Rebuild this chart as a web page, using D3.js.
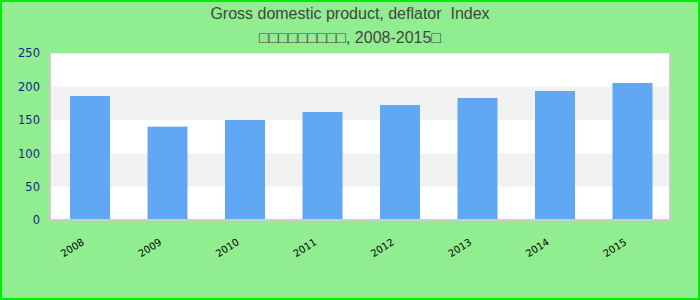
<!DOCTYPE html>
<html>
<head>
<meta charset="utf-8">
<script src="https://cdn.jsdelivr.net/npm/d3@7"></script>
<style>
  body { margin: 0; }
  svg { display: block; }
</style>
</head>
<body>
<div id="chart"></div>
<script>
// data
var years = ["2008", "2009", "2010", "2011", "2012", "2013", "2014", "2015"];
var deflator = [186, 140, 150, 162, 172.5, 183, 193.5, 205.5];
var yTicks = [0, 50, 100, 150, 200, 250];
var titleLines = ["Gross domestic product, deflator  Index", "\u25A1\u25A1\u25A1\u25A1\u25A1\u25A1\u25A1\u25A1\u25A1, 2008-2015\u25A1"];

var width = 700, height = 300;
var plot = { left: 50, right: 670, top: 53.3, bottom: 220 };

var svg = d3.select("#chart")
    .append("svg")
    .attr("width", width)
    .attr("height", height);

// background + outer border
svg.append("rect")
    .attr("x", 1).attr("y", 1)
    .attr("width", width - 2).attr("height", height - 2)
    .style("fill", "#90ee90")
    .style("stroke", "#00ee00")
    .style("stroke-width", 2);

// title
svg.selectAll(".title")
    .data(titleLines)
    .enter()
    .append("text")
    .attr("class", "title")
    .attr("x", width / 2)
    .attr("y", function (d, i) { return 18.5 + i * 24; })
    .style("text-anchor", "middle")
    .style("white-space", "pre")
    .style("font-family", "'Liberation Sans', Arial, sans-serif")
    .style("font-size", "16px")
    .style("fill", "#444")
    .text(function (d) { return d; });

// scales
var x = d3.scaleBand()
    .domain(years)
    .range([plot.left + 1.25, plot.right + 1.25])
    .paddingInner(0.484)
    .paddingOuter(0.242);

var y = d3.scaleLinear()
    .domain([0, 250])
    .range([plot.bottom, plot.top]);

// plot area with alternating bands
svg.append("rect")
    .attr("x", plot.left).attr("y", plot.top)
    .attr("width", plot.right - plot.left).attr("height", plot.bottom - plot.top)
    .style("fill", "#fff");

var bands = d3.range(0, yTicks.length - 1);
svg.selectAll(".band")
    .data(bands.filter(function (i) { return i % 2 == 1; }))
    .enter()
    .append("rect")
    .attr("class", "band")
    .attr("x", plot.left)
    .attr("width", plot.right - plot.left)
    .attr("y", function (i) { return y(yTicks[i + 1]); })
    .attr("height", function (i) { return y(yTicks[i]) - y(yTicks[i + 1]); })
    .style("fill", "#f2f2f2");

// bars
svg.selectAll(".bar")
    .data(deflator)
    .enter()
    .append("rect")
    .attr("class", "bar")
    .attr("x", function (d, i) { return x(years[i]); })
    .attr("width", x.bandwidth())
    .attr("y", function (d) { return y(d); })
    .attr("height", function (d) { return y(0) - y(d); })
    .style("fill", "#60a8f4");

// plot frame (left, bottom, right)
svg.append("path")
    .attr("d", "M" + plot.left + "," + plot.top + "V" + plot.bottom + "H" + plot.right + "V" + plot.top)
    .style("fill", "none")
    .style("stroke", "#cccccc")
    .style("stroke-width", 2);

// y axis
var yAxis = svg.append("g")
    .attr("transform", "translate(" + (plot.left - 10) + ",0)")
    .call(d3.axisLeft(y).tickValues(yTicks).tickSize(0).tickPadding(0));
yAxis.select(".domain").remove();
yAxis.selectAll("text")
    .style("font-family", "'DejaVu Sans', Verdana, sans-serif")
    .style("font-size", "11.5px")
    .style("fill", "#1c1c8a");

// x axis
var xAxis = svg.append("g")
    .attr("transform", "translate(0," + plot.bottom + ")")
    .call(d3.axisBottom(x).tickSize(0).tickPadding(0));
xAxis.select(".domain").remove();
xAxis.selectAll("text")
    .style("font-family", "'DejaVu Sans', Verdana, sans-serif")
    .style("font-size", "10px")
    .style("fill", "#000")
    .style("text-anchor", "end")
    .attr("dy", null)
    .attr("transform", "translate(-5,24) rotate(-32)");
</script>
</body>
</html>
